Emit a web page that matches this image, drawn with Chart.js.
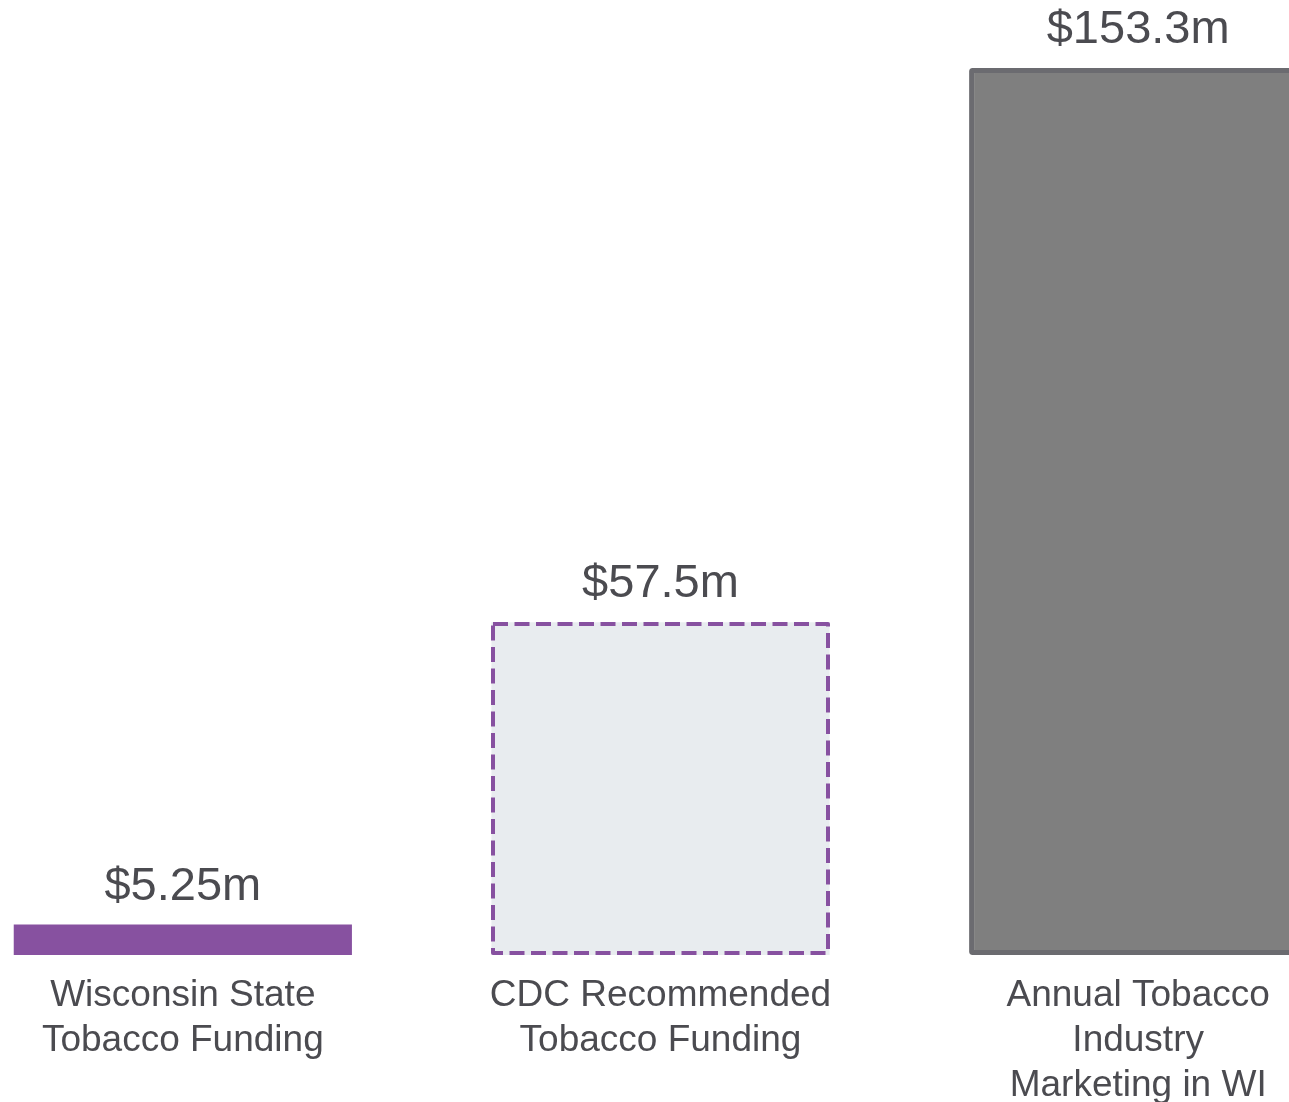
<!DOCTYPE html>
<html>
<head>
<meta charset="utf-8">
<script src="https://cdn.jsdelivr.net/npm/chart.js@4"></script>
<style>
  html, body { margin: 0; padding: 0; background: #ffffff; overflow: hidden; width: 1289px; height: 1102px; }
  #wrap { position: absolute; left: -56px; top: 0; width: 1433px; height: 1126px; }
</style>
</head>
<body>
<div id="wrap"><canvas id="c" width="1433" height="1126"></canvas></div>
<script>
// ---- data ----
const categories = [
  ['Wisconsin State', 'Tobacco Funding'],
  ['CDC Recommended', 'Tobacco Funding'],
  ['Annual Tobacco', 'Industry', 'Marketing in WI']
];
const amounts = [5.25, 57.5, 153.3];           // $ millions
const valueLabels = amounts.map(v => '$' + v + 'm');

// ---- styles ----
const FONT = "'Liberation Sans', Arial, sans-serif";
const TEXT = '#4b4b50';
const PURPLE = '#8751a0';
const fills = [PURPLE, '#e8ecef', '#7f7f7f'];
const borders = [PURPLE, PURPLE, '#6b6b70'];
const borderWidths = [0, 0, 5];
const radii = [0, 0, 3];

const overlay = {
  id: 'overlay',
  afterDatasetsDraw(chart) {
    const ctx = chart.ctx;
    const meta = chart.getDatasetMeta(0);
    meta.data.forEach((bar, i) => {
      const p = bar.getProps(['x', 'y', 'base', 'width'], true);
      const left = Math.round(p.x - p.width / 2);
      const right = Math.round(p.x + p.width / 2);
      const top = Math.round(p.y), bottom = Math.round(p.base);
      // dashed outline for the recommended-funding bar
      if (i === 1) {
        ctx.save();
        ctx.strokeStyle = PURPLE;
        ctx.lineWidth = 4;
        ctx.setLineDash([15, 6.5]);
        ctx.lineJoin = 'round';
        ctx.strokeRect(left + 2, top + 2, right - left - 4, bottom - top - 4);
        ctx.restore();
      }
      ctx.save();
      ctx.font = '47px ' + FONT;
      ctx.fillStyle = TEXT;
      ctx.textAlign = 'center';
      ctx.textBaseline = 'alphabetic';
      ctx.fillText(valueLabels[i], p.x, p.y - 25);
      ctx.restore();
    });
  }
};

new Chart(document.getElementById('c'), {
  type: 'bar',
  data: {
    labels: categories,
    datasets: [{
      data: amounts,
      backgroundColor: fills,
      borderColor: borders,
      borderWidth: borderWidths,
      borderSkipped: false,
      borderRadius: radii,
      categoryPercentage: 1.0,
      barPercentage: 0.708
    }]
  },
  options: {
    responsive: false,
    animation: false,
    devicePixelRatio: 1,
    layout: { padding: { top: 68, left: 0, right: 0, bottom: 0 } },
    plugins: { legend: { display: false }, tooltip: { enabled: false } },
    scales: {
      x: {
        grid: { display: false, drawTicks: false, tickLength: 0 },
        border: { display: false },
        ticks: {
          autoSkip: false,
          maxRotation: 0,
          minRotation: 0,
          padding: 18,
          color: TEXT,
          font: { family: FONT, size: 37, lineHeight: 45 / 37 }
        }
      },
      y: {
        display: false,
        min: 0,
        max: amounts[2]
      }
    }
  },
  plugins: [overlay]
});
</script>
</body>
</html>
